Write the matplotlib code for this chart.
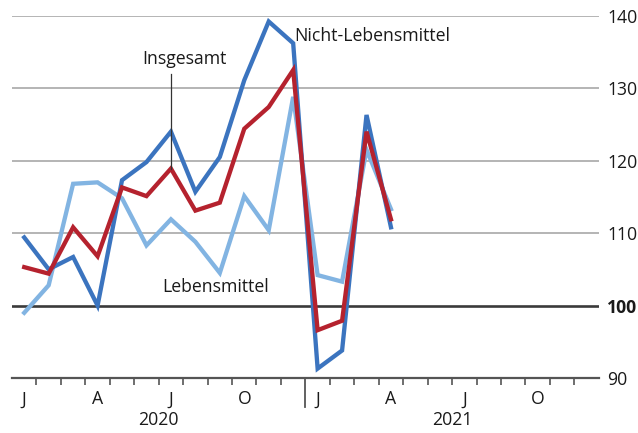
import matplotlib
matplotlib.use("Agg")
import matplotlib.pyplot as plt
import matplotlib.transforms as mtransforms

plt.rcParams['font.family'] = ['Open Sans', 'DejaVu Sans']

months = list(range(16))  # Jan 2020 .. Apr 2021
nicht_lebensmittel = [109.4, 105.0, 106.7, 100.0, 117.3, 119.8, 124.0, 115.7,
                      120.5, 131.1, 139.2, 136.2, 91.3, 93.8, 126.3, 110.8]
insgesamt = [105.3, 104.4, 110.8, 106.8, 116.3, 115.1, 118.9, 113.1,
             114.2, 124.4, 127.4, 132.5, 96.6, 97.9, 124.0, 111.9]
lebensmittel = [99.0, 102.8, 116.8, 117.0, 114.8, 108.3, 111.9, 108.8,
                104.5, 115.1, 110.4, 128.8, 104.2, 103.3, 121.5, 113.3]

y_ticks = [90, 100, 110, 120, 130, 140]
month_labels = ["J", "A", "J", "O", "J", "A", "J", "O"]
month_label_pos = [0, 3, 6, 9, 12, 15, 18, 21]
years = ["2020", "2021"]

c_dark = "#3b74bf"
c_red = "#b5222e"
c_light = "#82b4e2"
FS = 12.7

fig = plt.figure(figsize=(6.38, 4.33), dpi=100)
ax = fig.add_axes([12/638, 55/433, (598.8-12)/638, (417.3-55)/433])
ax.set_xlim(0, 24)
ax.set_ylim(90, 140)

xc = [m + 0.5 for m in months]

# grid lines
for v in y_ticks:
    if v == 100:
        ax.axhline(v, color="#3a3a3a", lw=1.9, zorder=2)
    elif v == 90:
        pass
    else:
        ax.axhline(v, color="#a8a8a8", lw=1.2, zorder=1)

ax.plot(xc, lebensmittel, color=c_light, lw=3.1, zorder=3, solid_joinstyle="miter")
ax.plot(xc, nicht_lebensmittel, color=c_dark, lw=3.1, zorder=4, solid_joinstyle="miter")
ax.plot(xc, insgesamt, color=c_red, lw=3.1, zorder=5, solid_joinstyle="miter")

for s in ["top", "left", "right"]:
    ax.spines[s].set_visible(False)
ax.spines["bottom"].set_color("#555555")
ax.spines["bottom"].set_linewidth(1.6)

# y ticks on right
ax.yaxis.tick_right()
ax.set_yticks(y_ticks)
ax.set_yticklabels([str(v) for v in y_ticks])
ax.tick_params(axis="y", length=0, pad=6, labelsize=FS, labelcolor="#1a1a1a")
for lab in ax.get_yticklabels():
    if lab.get_text() == "100":
        lab.set_fontweight("bold")

# x ticks: boundaries as major ticks, labels at month centers as minor
ax.set_xticks([m for m in range(1, 24) if m != 12])
ax.set_xticklabels([])
ax.tick_params(axis="x", which="major", length=5, width=1.2, color="#555555", direction="out")
ax.set_xticks([p + 0.5 for p in month_label_pos], minor=True)
ax.set_xticklabels(month_labels, minor=True)
ax.tick_params(axis="x", which="minor", length=0, pad=9, labelsize=FS, labelcolor="#1a1a1a")

trans = mtransforms.blended_transform_factory(ax.transData, ax.transAxes)
# year boundary long tick
ax.plot([12, 12], [0.0, -0.08], color="#555555", lw=1.3, transform=trans, clip_on=False)
for i, yr in enumerate(years):
    ax.text(6 + 12*i, -0.09, yr, transform=trans, ha="center", va="top",
            fontsize=FS, color="#1a1a1a")

# series labels
ax.text(11.55, 137.2, "Nicht-Lebensmittel", ha="left", va="center", fontsize=FS, color="#1a1a1a")
ax.text(7.05, 134.0, "Insgesamt", ha="center", va="center", fontsize=FS, color="#1a1a1a")
ax.plot([6.5, 6.5], [131.9, insgesamt[6]], color="#333333", lw=0.9, zorder=6)
ax.text(6.15, 102.5, "Lebensmittel", ha="left", va="center", fontsize=FS, color="#1a1a1a")

fig.savefig("out.png", dpi=100)
